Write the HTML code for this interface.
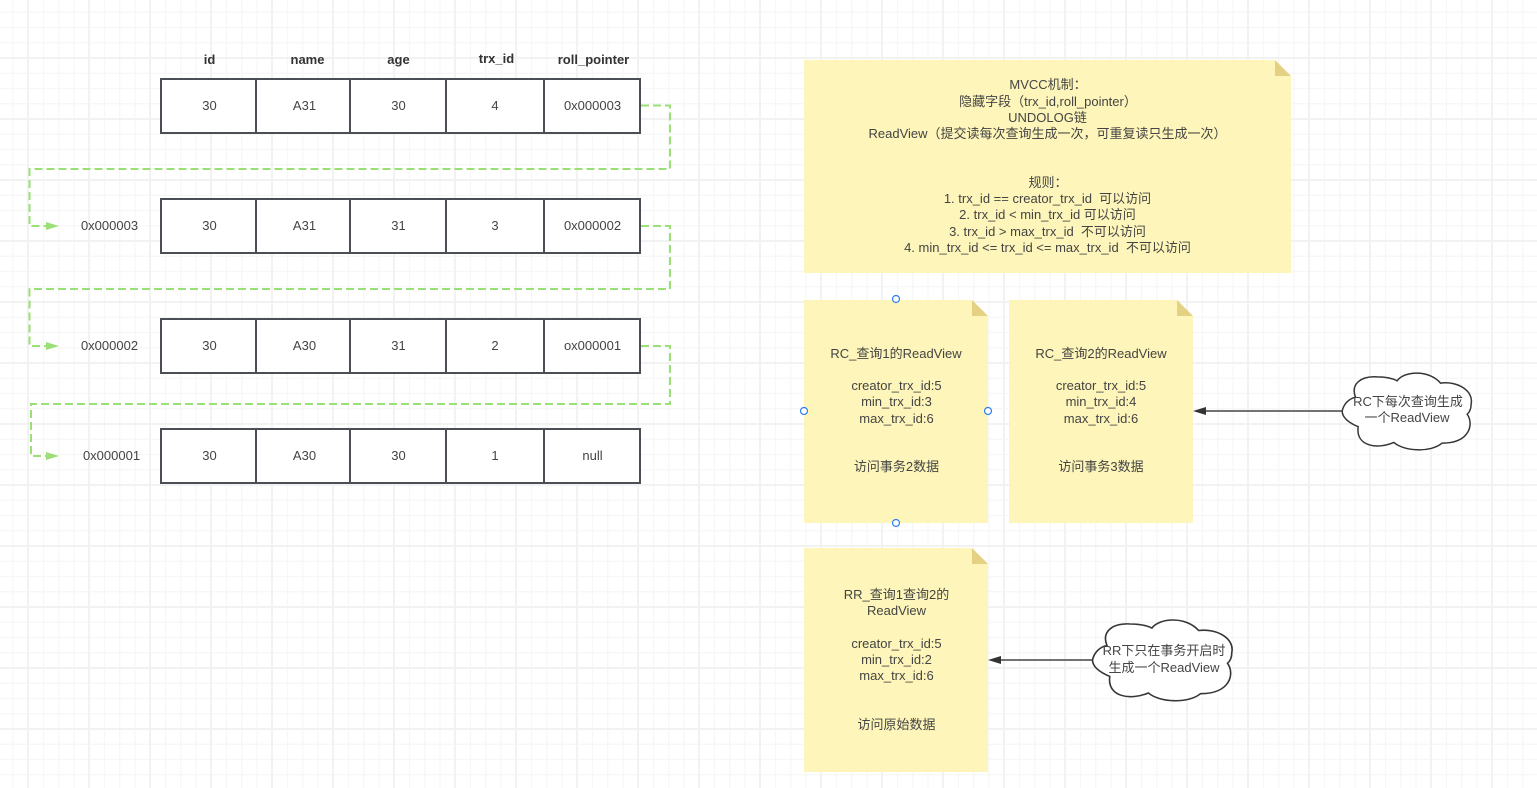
<!DOCTYPE html>
<html>
<head>
<meta charset="utf-8">
<style>
html,body{margin:0;padding:0;background:#fff;width:1537px;height:788px;overflow:hidden}
svg{display:block;filter:blur(.35px)}
text{font-family:"Liberation Sans","Noto Sans CJK SC",sans-serif;font-size:13px;fill:#444;text-anchor:middle}
.b{font-weight:bold;fill:#333}
.cell{fill:#fff;stroke:#4a4f55;stroke-width:2}
.link{fill:none;stroke:#9be076;stroke-width:2;stroke-dasharray:8 4}
.head{fill:#9be076}
.note{fill:#fdf5b9}
.fold{fill:#e4d184}
.cloud{fill:#fff;stroke:#33373a;stroke-width:4.5}
.h{fill:#fff;stroke:#2f7ff0;stroke-width:1.2}
</style>
</head>
<body>
<svg width="1537" height="788" viewBox="0 0 1537 788" xmlns="http://www.w3.org/2000/svg">
<defs>
<pattern id="minor" x="5.375" y="4.625" width="15.25" height="15.25" patternUnits="userSpaceOnUse">
<path d="M7.625 0V15.25M0 7.625H15.25" stroke="#f6f6f6" stroke-width="1.2" fill="none"/>
</pattern>
<pattern id="major" x="-2.5" y="27.5" width="61" height="61" patternUnits="userSpaceOnUse">
<path d="M30.500 0V61M0 30.500H61" stroke="#f2f2f2" stroke-width="2" fill="none"/>
</pattern>
<path id="cl" d="M485,1082 C490,1060 505,1045 525,1040 C510,1000 540,975 590,978 C615,978 635,982 650,990 C670,960 745,955 780,997 C830,990 880,1020 872,1060 C872,1075 868,1085 860,1092 C880,1120 870,1180 785,1180 C750,1210 670,1205 640,1178 C590,1200 525,1190 533,1130 C510,1120 485,1105 485,1082Z"/>
</defs>
<rect width="1537" height="788" fill="#fff"/>
<rect width="1537" height="788" fill="url(#minor)"/>
<rect width="1537" height="788" fill="url(#major)"/>

<!-- headers -->
<text class="b" x="209.500" y="64">id</text>
<text class="b" x="307.500" y="64">name</text>
<text class="b" x="398.500" y="64">age</text>
<text class="b" x="496.500" y="63">trx_id</text>
<text class="b" x="593.500" y="64">roll_pointer</text>

<!-- connectors -->
<path class="link" d="M641 105.500H670V169H29.500V226H48"/>
<path class="head" d="M46 222L59 226L46 230Z"/>
<path class="link" d="M641 226H670V289H29.500V346H48"/>
<path class="head" d="M46 342L59 346L46 350Z"/>
<path class="link" d="M641 346H670V404H31V456H48"/>
<path class="head" d="M46 452L59 456L46 460Z"/>

<!-- row 1 -->
<g>
<rect class="cell" x="161" y="79" width="95" height="54"/><rect class="cell" x="256" y="79" width="94" height="54"/><rect class="cell" x="350" y="79" width="96" height="54"/><rect class="cell" x="446" y="79" width="98" height="54"/><rect class="cell" x="544" y="79" width="96" height="54"/>
<text x="209.500" y="110">30</text><text x="304.500" y="110">A31</text><text x="398.500" y="110">30</text><text x="495" y="110">4</text><text x="592.500" y="110">0x000003</text>
</g>
<!-- row 2 -->
<g>
<rect class="cell" x="161" y="199" width="95" height="54"/><rect class="cell" x="256" y="199" width="94" height="54"/><rect class="cell" x="350" y="199" width="96" height="54"/><rect class="cell" x="446" y="199" width="98" height="54"/><rect class="cell" x="544" y="199" width="96" height="54"/>
<text x="209.500" y="230">30</text><text x="304.500" y="230">A31</text><text x="398.500" y="230">31</text><text x="495" y="230">3</text><text x="592.500" y="230">0x000002</text>
</g>
<!-- row 3 -->
<g>
<rect class="cell" x="161" y="319" width="95" height="54"/><rect class="cell" x="256" y="319" width="94" height="54"/><rect class="cell" x="350" y="319" width="96" height="54"/><rect class="cell" x="446" y="319" width="98" height="54"/><rect class="cell" x="544" y="319" width="96" height="54"/>
<text x="209.500" y="350">30</text><text x="304.500" y="350">A30</text><text x="398.500" y="350">31</text><text x="495" y="350">2</text><text x="592.500" y="350">ox000001</text>
</g>
<!-- row 4 -->
<g>
<rect class="cell" x="161" y="429" width="95" height="54"/><rect class="cell" x="256" y="429" width="94" height="54"/><rect class="cell" x="350" y="429" width="96" height="54"/><rect class="cell" x="446" y="429" width="98" height="54"/><rect class="cell" x="544" y="429" width="96" height="54"/>
<text x="209.500" y="460">30</text><text x="304.500" y="460">A30</text><text x="398.500" y="460">30</text><text x="495" y="460">1</text><text x="592.500" y="460">null</text>
</g>

<text x="109.500" y="230">0x000003</text>
<text x="109.500" y="350">0x000002</text>
<text x="111.500" y="460">0x000001</text>

<!-- big note -->
<path class="note" d="M804 60H1275L1291 76V273H804Z"/>
<path class="fold" d="M1275 60L1291 76H1275Z"/>
<g>
<text x="1048" y="89">MVCC机制：</text>
<text x="1048" y="106">隐藏字段（trx_id,roll_pointer）</text>
<text x="1047.500" y="122">UNDOLOG链</text>
<text x="1047.500" y="138">ReadView（提交读每次查询生成一次，可重复读只生成一次）</text>
<text x="1048" y="187">规则：</text>
<text x="1047.500" y="203" xml:space="preserve">1. trx_id == creator_trx_id  可以访问</text>
<text x="1047.500" y="219">2. trx_id &lt; min_trx_id 可以访问</text>
<text x="1047.500" y="236" xml:space="preserve">3. trx_id &gt; max_trx_id  不可以访问</text>
<text x="1047.500" y="252" xml:space="preserve">4. min_trx_id &lt;= trx_id &lt;= max_trx_id  不可以访问</text>
</g>

<!-- RC 1 -->
<path class="note" d="M804 300H972L988 316V523H804Z"/>
<path class="fold" d="M972 300L988 316H972Z"/>
<text x="896" y="358">RC_查询1的ReadView</text>
<text x="896.500" y="390">creator_trx_id:5</text>
<text x="896.500" y="406">min_trx_id:3</text>
<text x="896.500" y="423">max_trx_id:6</text>
<text x="896.500" y="471">访问事务2数据</text>

<!-- RC 2 -->
<path class="note" d="M1009 300H1177L1193 316V523H1009Z"/>
<path class="fold" d="M1177 300L1193 316H1177Z"/>
<text x="1101" y="358">RC_查询2的ReadView</text>
<text x="1101" y="390">creator_trx_id:5</text>
<text x="1101" y="406">min_trx_id:4</text>
<text x="1101" y="423">max_trx_id:6</text>
<text x="1101" y="471">访问事务3数据</text>

<!-- RR -->
<path class="note" d="M804 548H972L988 564V772H804Z"/>
<path class="fold" d="M972 548L988 564H972Z"/>
<text x="896.500" y="599">RR_查询1查询2的</text>
<text x="896.500" y="615">ReadView</text>
<text x="896.500" y="648">creator_trx_id:5</text>
<text x="896.500" y="664">min_trx_id:2</text>
<text x="896.500" y="680">max_trx_id:6</text>
<text x="896.500" y="729">访问原始数据</text>

<!-- selection handles -->
<circle class="h" cx="896" cy="299" r="3.500"/>
<circle class="h" cx="804" cy="411" r="3.500"/>
<circle class="h" cx="988" cy="411" r="3.500"/>
<circle class="h" cx="896" cy="523" r="3.500"/>

<!-- arrows -->
<path d="M1343 411H1200" stroke="#444" stroke-width="1.500" fill="none"/>
<path d="M1193 411L1206 407V415Z" fill="#333"/>
<path d="M1093 660H995" stroke="#444" stroke-width="1.500" fill="none"/>
<path d="M988 660L1001 656V664Z" fill="#333"/>

<!-- clouds -->
<use href="#cl" class="cloud" transform="translate(1180.500 50.500) scale(.33333 .32800) translate(0 17)"/>
<text x="1408" y="406">RC下每次查询生成</text>
<text x="1407" y="422">一个ReadView</text>

<use href="#cl" class="cloud" transform="translate(1092.500 619.500) scale(.36 .345) translate(-485 -965)"/>
<text x="1164" y="655">RR下只在事务开启时</text>
<text x="1164" y="672">生成一个ReadView</text>
</svg>
</body>
</html>
